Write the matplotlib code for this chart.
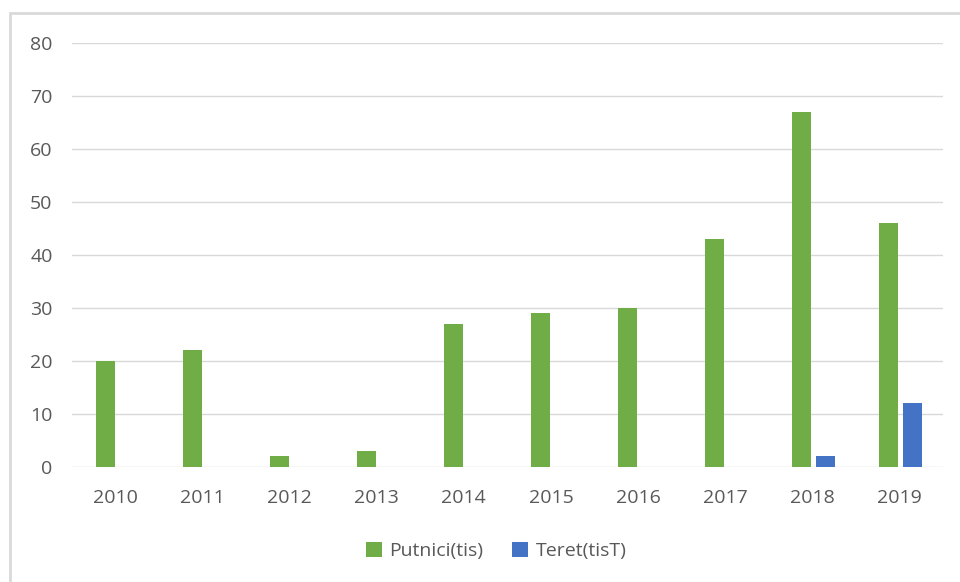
import matplotlib.pyplot as plt
import numpy as np
from matplotlib.patches import Rectangle

years = ["2010", "2011", "2012", "2013", "2014", "2015", "2016", "2017", "2018", "2019"]
putnici = [20, 22, 2, 3, 27, 29, 30, 43, 67, 46]
teret = [0, 0, 0, 0, 0, 0, 0, 0, 2, 12]

plt.rcParams["font.family"] = ["Open Sans", "DejaVu Sans"]

fig = plt.figure(figsize=(9.6, 5.82), dpi=100)
ax = fig.add_axes([0.075, 0.1976, 0.907, 0.7284])

x = np.arange(len(years))
w = 0.22
ax.bar(x - w / 2 - 0.01, putnici, w, color="#70AD47", label="Putnici(tis)", zorder=3)
ax.bar(x + w / 2 + 0.04, teret, w, color="#4472C4", label="Teret(tisT)", zorder=3)

ax.set_xlim(-0.5, len(years) - 0.5)
ax.set_ylim(0, 80)
ax.set_yticks(range(0, 81, 10))
ax.set_xticks(x)
ax.set_xticklabels(years)
ax.grid(axis="y", color="#D9D9D9", linewidth=1, zorder=0)
for s in ax.spines.values():
    s.set_visible(False)
ax.tick_params(length=0, labelsize=14, colors="#595959")
ax.tick_params(axis="y", pad=14)
ax.tick_params(axis="x", pad=16)

fig.legend(loc="center", bbox_to_anchor=(0.517, 0.053), ncol=2, frameon=False,
           fontsize=14, handlelength=0.8, handleheight=0.8, handletextpad=0.4,
           columnspacing=1.5, labelcolor="#595959")

fig.patches.append(Rectangle((10 / 960, -0.02), 1.2, 1.02 - 13 / 582, transform=fig.transFigure,
                             fill=False, edgecolor="#D9D9D9", linewidth=2))

fig.savefig("out.png")
